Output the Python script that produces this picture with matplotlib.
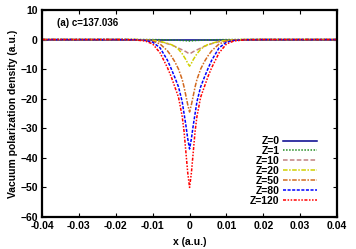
import numpy as np
import matplotlib
matplotlib.use("Agg")
import matplotlib.pyplot as plt

plt.rcParams['font.family'] = ['Liberation Sans', 'DejaVu Sans']
plt.rcParams['font.weight'] = 'bold'

# sample positions (half axis, |x|), mirrored below
xhalf = [0.0, 0.0005, 0.001, 0.0015, 0.002, 0.003, 0.004, 0.005, 0.006,
         0.008, 0.01, 0.012, 0.015, 0.02, 0.04]

# values, same order as xhalf
z0 = [0, 0, 0, 0, 0, 0, 0, 0, 0, 0, 0, 0, 0, 0, 0]
z1 = [-0.5, -0.45, -0.4, -0.35, -0.3, -0.25, -0.2, -0.15, -0.1, -0.05, -0.02, 0, 0, 0, 0]
z10 = [-4.8, -4.5, -4.1, -3.8, -3.5, -2.9, -2.3, -1.8, -1.4, -0.7, -0.35, -0.15, -0.05, 0, 0]
z20 = [-9.0, -8.0, -6.8, -5.8, -4.8, -3.3, -2.3, -1.7, -1.3, -0.6, -0.25, -0.1, 0, 0, 0]
z50 = [-24.5, -22.0, -19.0, -16.0, -13.5, -10.0, -7.5, -5.5, -3.8, -1.5, -0.5, -0.15, 0, 0, 0]
z80 = [-37.0, -33.5, -29.0, -25.0, -21.0, -16.0, -12.8, -9.8, -7.0, -2.8, -0.9, -0.3, -0.05, 0, 0]
z120 = [-50.0, -45.0, -38.0, -31.0, -26.0, -19.5, -16.0, -12.5, -9.5, -4.5, -1.5, -0.5, -0.1, 0, 0]

labels = ['Z=0', 'Z=1', 'Z=10', 'Z=20', 'Z=50', 'Z=80', 'Z=120']
series = [z0, z1, z10, z20, z50, z80, z120]
colors = ['#00008b', '#228b22', '#c08080', '#d0d000', '#d2691e', '#0000ff', '#ff0000']
styles = ['-', (0, (1, 1)), (0, (3, 1.5)), (0, (3, 1, 1, 1)), (0, (3, 1, 1, 1)),
          (0, (2, 1)), (0, (2, 1, 1, 1, 1, 1))]

xh = np.array(xhalf)
x = np.concatenate([-xh[::-1], xh[1:]])

fig = plt.figure(figsize=(3.56, 2.49), dpi=100)
ax = fig.add_axes([0.118, 0.1285, 0.829, 0.8315])

for lab, s, c, ls in zip(labels, series, colors, styles):
    s = np.array(s, dtype=float)
    y = np.concatenate([s[::-1], s[1:]])
    ax.plot(x, y, color=c, linestyle=ls, lw=1.1, label=lab)

fs = 7.5
ax.set_xlim(-0.04, 0.04)
ax.set_ylim(-60, 10)
ax.set_xticks(np.arange(-0.04, 0.041, 0.01))
ax.set_xticklabels(['-0.04', '-0.03', '-0.02', '-0.01', '0', '0.01', '0.02', '0.03', '0.04'])
ax.set_yticks(np.arange(-60, 11, 10))
ax.tick_params(direction='in', length=3, width=0.8, top=True, right=True,
               labelsize=fs, pad=3)
for sp in ax.spines.values():
    sp.set_linewidth(1.6)

ax.set_xlabel('x (a.u.)', fontsize=fs, fontweight='bold', labelpad=4)
ax.set_ylabel('Vacuum polarization density (a.u.)', fontsize=fs, fontweight='bold', labelpad=2)
ax.text(0.05, 0.96, '(a) c=137.036', transform=ax.transAxes, fontsize=fs - 0.5,
        fontweight='bold', va='top', ha='left')

leg = ax.legend(loc='lower right', bbox_to_anchor=(0.932, 0.055), frameon=False,
                markerfirst=False, fontsize=fs, handlelength=3.3, handletextpad=0.3,
                labelspacing=-0.01, borderpad=0, borderaxespad=0)

fig.savefig('out.png', dpi=100)
